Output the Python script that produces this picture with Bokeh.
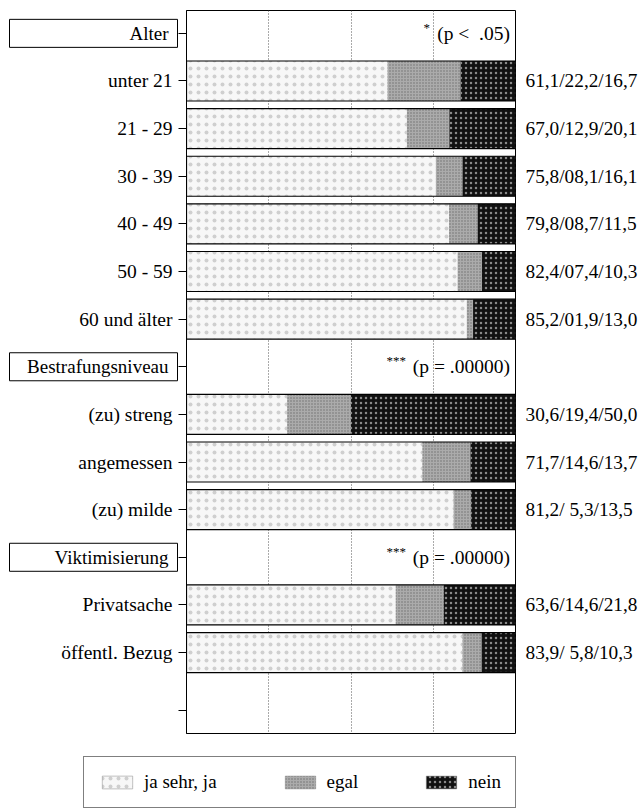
from bokeh.plotting import figure
from bokeh.layouts import column, row
from bokeh.models import (ColumnDataSource, FixedTicker, LinearAxis, Range1d,
                          Legend, LegendItem, Grid)
from bokeh.core.properties import value
from bokeh.embed import file_html
from bokeh.resources import INLINE

# ---------------- data ----------------
groups = ["Alter", "Bestrafungsniveau", "Viktimisierung"]
group_members = [
    ["unter 21", "21 - 29", "30 - 39", "40 - 49", "50 - 59", "60 und älter"],
    ["(zu) streng", "angemessen", "(zu) milde"],
    ["Privatsache", "öffentl. Bezug"],
]
significance_stars = ["*", "***", "***"]
significance_text = ["(p <\u00a0 .05)", "(p = .00000)", "(p = .00000)"]

series_names = ["ja sehr, ja", "egal", "nein"]
ja = [61.1, 67.0, 75.8, 79.8, 82.4, 85.2, 30.6, 71.7, 81.2, 63.6, 83.9]
egal = [22.2, 12.9, 8.1, 8.7, 7.4, 1.9, 19.4, 14.6, 5.3, 14.6, 5.8]
nein = [16.7, 20.1, 16.1, 11.5, 10.3, 13.0, 50.0, 13.7, 13.5, 21.8, 10.3]
value_labels = ["61,1/22,2/16,7", "67,0/12,9/20,1", "75,8/08,1/16,1",
                "79,8/08,7/11,5", "82,4/07,4/10,3", "85,2/01,9/13,0",
                "30,6/19,4/50,0", "71,7/14,6/13,7", "81,2/ 5,3/13,5",
                "63,6/14,6/21,8", "83,9/ 5,8/10,3"]

# ---------------- layout constants ----------------
TOTAL_W = 644
LEFT_W = 178            # width of label column
MAIN_W = TOTAL_W - LEFT_W
TOP_H = 740
LEG_H = 71
FRAME_TOP = 10
FRAME_BOTTOM_BORDER = TOP_H - 733
TICK_LEN = 8
FRAME_W = 329
FONT = "Liberation Serif"

# row positions (header rows + member rows)
header_pos, member_pos, member_names = [], [], []
pos = 0
for g, members in zip(groups, group_members):
    header_pos.append(pos)
    pos += 1
    for m in members:
        member_pos.append(pos)
        member_names.append(m)
        pos += 1
empty_tick = pos - 1 + 1.22
y_range = Range1d(pos - 1 + 1.70, -0.48)

total = [a + b + c for a, b, c in zip(ja, egal, nein)]
src = ColumnDataSource(dict(y=member_pos, ja=ja, egal=egal, nein=nein, total=total))

fills = ["#f7f7f7", "#ababab", "#111111"]
hatch_colors = ["#cfcfcf", "#6e6e6e", "#8a8a8a"]
hatch_scales = [8, 3, 5]

# ---------------- left label column ----------------
lf = figure(width=LEFT_W, height=TOP_H, x_range=Range1d(0, LEFT_W), y_range=y_range,
            output_backend="svg", toolbar_location=None,
            x_axis_location=None, y_axis_location=None,
            min_border_left=0, min_border_right=0,
            min_border_top=FRAME_TOP, min_border_bottom=FRAME_BOTTOM_BORDER)
lf.outline_line_color = None
lf.center = [r for r in lf.center if not isinstance(r, Grid)]
lf.border_fill_color = "white"

hdr_src = ColumnDataSource(dict(y=header_pos, name=groups))
mem_src = ColumnDataSource(dict(y=member_pos, name=member_names))
BOX_H = 28 / 47.6
lf.rect(x=(9 + 177) / 2, y="y", width=177 - 9, height=BOX_H, source=hdr_src,
        fill_color="white", line_color="black", line_width=1)
lf.text(x=168, y="y", text="name", source=hdr_src, text_align="right",
        text_baseline="middle", text_font=value(FONT), text_font_size="19px",
        text_color="black")
lf.text(x=172, y="y", text="name", source=mem_src, text_align="right",
        text_baseline="middle", text_font=value(FONT), text_font_size="19.5px",
        text_color="black")

# ---------------- main plot ----------------
p = figure(width=MAIN_W, height=TOP_H, x_range=Range1d(0, 100), y_range=y_range,
           output_backend="svg", toolbar_location=None,
           x_axis_location=None, y_axis_location=None,
           min_border_left=TICK_LEN, min_border_right=MAIN_W - TICK_LEN - FRAME_W,
           min_border_top=FRAME_TOP, min_border_bottom=FRAME_BOTTOM_BORDER)
p.outline_line_color = "black"
p.outline_line_width = 1
p.background_fill_color = "white"
p.border_fill_color = "white"
p.center = [r for r in p.center if not isinstance(r, Grid)]

grid = Grid(dimension=0, ticker=FixedTicker(ticks=[25, 50, 75]),
            grid_line_color="#555555", grid_line_dash="1 2", grid_line_width=1)
p.add_layout(grid)

left_ticks = sorted(header_pos + member_pos) + [empty_tick]
yl = LinearAxis(ticker=FixedTicker(ticks=left_ticks, minor_ticks=[]),
                major_label_overrides={t: "" for t in left_ticks},
                major_tick_out=TICK_LEN, major_tick_in=0, minor_tick_line_color=None,
                major_label_standoff=0, axis_line_color="black",
                major_label_text_font_size="1px", major_tick_line_color="black")
p.add_layout(yl, "left")

right_over = {mp: lab for mp, lab in zip(member_pos, value_labels)}
yr = LinearAxis(ticker=FixedTicker(ticks=member_pos, minor_ticks=[]),
                major_label_overrides=right_over,
                major_tick_out=0, major_tick_in=0, major_tick_line_color=None,
                minor_tick_line_color=None, axis_line_color=None,
                major_label_standoff=10,
                major_label_text_font=FONT, major_label_text_font_size="19.3px",
                major_label_text_color="black")
p.add_layout(yr, "right")

BAR_H = 0.84
p.hbar_stack(["ja", "egal", "nein"], y="y", height=BAR_H, source=src,
             fill_color=fills, line_color=None,
             hatch_pattern=["dot", "dot", "dot"], hatch_color=hatch_colors,
             hatch_scale=hatch_scales, hatch_weight=1)
p.hbar(y="y", left=0, right="total", height=BAR_H, source=src,
       fill_color=None, line_color="black", line_width=1.2)

star_offsets = [-80, -104, -104]
for hp, st, tx, off in zip(header_pos, significance_stars, significance_text, star_offsets):
    p.text(x=[98.3], y=[hp], text=[tx], text_align="right", text_baseline="middle",
           text_font=value(FONT), text_font_size="19.5px", text_color="black")
    p.text(x=[98.3], y=[hp], text=[st], text_align="right", text_baseline="middle",
           x_offset=off, y_offset=-6,
           text_font=value(FONT), text_font_size="13px", text_color="#000000")

# ---------------- legend strip ----------------
lg = figure(width=TOTAL_W, height=LEG_H, x_range=Range1d(0, 1), y_range=Range1d(0, 1),
            output_backend="svg", toolbar_location=None,
            x_axis_location=None, y_axis_location=None,
            min_border_left=0, min_border_right=0, min_border_top=0, min_border_bottom=0)
lg.outline_line_color = None
lg.center = [r for r in lg.center if not isinstance(r, Grid)]
# legend-only renderers: zero-size bars placed outside the visible range
offscreen = ColumnDataSource(dict(y=[-5.0], left=[-5.0], right=[-5.0]))
leg_renderers = []
for f, hc, hs in zip(fills, hatch_colors, hatch_scales):
    leg_renderers.append(lg.hbar(y="y", left="left", right="right", height=0.0, source=offscreen,
                                 fill_color=f, line_color="#888888", line_width=0.5,
                                 hatch_pattern="dot", hatch_color=hc, hatch_scale=hs,
                                 hatch_weight=1))
legend = Legend(items=[LegendItem(label=n, renderers=[r]) for n, r in zip(series_names, leg_renderers)],
                location=(83, 3), orientation="horizontal",
                border_line_color="black", border_line_width=1, background_fill_color="white",
                background_fill_alpha=1.0,
                label_text_font=FONT, label_text_font_size="19px", label_text_color="black",
                glyph_width=38, glyph_height=16, label_standoff=8, spacing=64, padding=14,
                margin=0)
lg.add_layout(legend)

layout = column(row(lf, p, spacing=0), lg, spacing=0)
open("out.html", "w").write(file_html(layout, INLINE))
